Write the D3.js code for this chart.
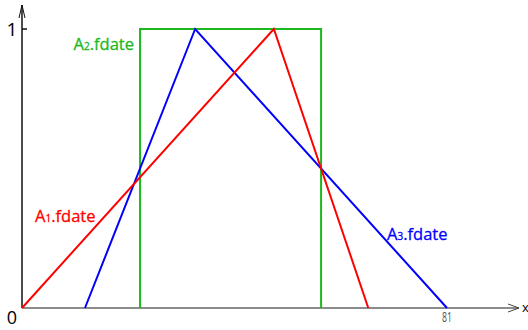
<!DOCTYPE html>
<html lang="en">
<head>
<meta charset="UTF-8">
<title>Fuzzy dates</title>
<style>
  body { margin: 0; background: #fff; overflow: hidden; }
  text { font-family: "Open Sans", sans-serif; }
</style>
</head>
<body>
<script src="https://d3js.org/d3.v7.min.js"></script>
<script>
// data
const xMax = 81;
const a1X = [0, 48, 66];      // red triangle
const a1Y = [0, 1, 0];
const a2X = [22.5, 22.5, 57, 57]; // green box
const a2Y = [0, 1, 1, 0];
const a3X = [12, 33, 81];     // blue triangle
const a3Y = [0, 1, 0];
const seriesNames = ["A1.fdate", "A2.fdate", "A3.fdate"];

const width = 528, height = 330;
const svg = d3.select("body").append("svg")
  .attr("width", width).attr("height", height);

const x = d3.scaleLinear().domain([0, xMax]).range([22, 447]);
const y = d3.scaleLinear().domain([0, 1]).range([308, 29]);

// axes
svg.append("line").attr("x1", x(0)).attr("x2", 519).attr("y1", y(0)).attr("y2", y(0))
  .attr("stroke", "#666").attr("stroke-width", 1.5);
svg.append("path").attr("d", `M508,304 L519,${y(0)} L508,312`)
  .attr("fill", "none").attr("stroke", "#444").attr("stroke-width", 1);
svg.append("text").attr("x", 522).attr("y", 312).attr("font-size", 13).text("x");

svg.append("line").attr("x1", x(0)).attr("x2", x(0)).attr("y1", y(0)).attr("y2", 5)
  .attr("stroke", "#111").attr("stroke-width", 1.5);
svg.append("path").attr("d", `M19,18 L22,5 L25,18`)
  .attr("fill", "none").attr("stroke", "#111").attr("stroke-width", 1);

svg.append("line").attr("x1", x(0)).attr("x2", x(0) + 5).attr("y1", y(1)).attr("y2", y(1))
  .attr("stroke", "#111").attr("stroke-width", 1.5);
svg.append("text").attr("x", 12).attr("y", y(1) + 7).attr("font-size", 19)
  .attr("text-anchor", "middle").text("1");
svg.append("text").attr("x", 12).attr("y", y(0) + 16).attr("font-size", 18)
  .attr("text-anchor", "middle").text("0");
svg.append("text").attr("x", x(xMax)).attr("y", y(0) + 14).attr("font-size", 14)
  .attr("text-anchor", "middle").attr("fill", "#555").attr("textLength", 10)
  .attr("lengthAdjust", "spacingAndGlyphs").text(String(xMax));

const line = d3.line().x(d => x(d[0])).y(d => y(d[1]));
const series = [
  { xs: a2X, ys: a2Y, color: "#1db81d" },
  { xs: a3X, ys: a3Y, color: "#0000ff" },
  { xs: a1X, ys: a1Y, color: "#ff0000" }
];
series.forEach(s => {
  svg.append("path").datum(d3.zip(s.xs, s.ys))
    .attr("d", line).attr("fill", "none")
    .attr("stroke", s.color).attr("stroke-width", 2);
});

// labels with subscript index
function label(name, px, py, color, anchor) {
  const t = svg.append("text").attr("x", px).attr("y", py)
    .attr("font-size", 16.5).attr("fill", color).attr("text-anchor", anchor)
    .attr("stroke", color).attr("stroke-width", 0.3);
  t.append("tspan").text(name[0]);
  t.append("tspan").attr("font-size", 10).text(name[1]);
  t.append("tspan").text(name.slice(2));
}
label(seriesNames[0], 35, 222, "#ff0000", "start");
label(seriesNames[1], 134, 50, "#1db81d", "end");
label(seriesNames[2], 387, 240, "#0000ff", "start");
</script>
</body>
</html>
